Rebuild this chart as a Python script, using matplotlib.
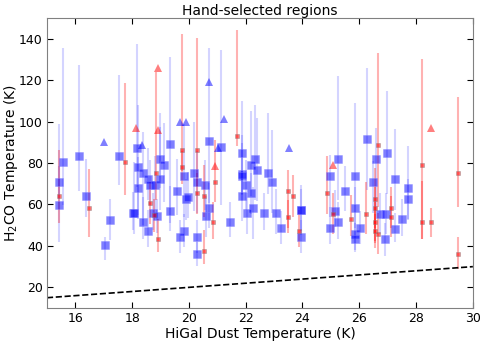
import numpy as np
import matplotlib
matplotlib.use("Agg")
import matplotlib.pyplot as plt

# blue squares: dust T, H2CO T, lower err, upper err
blue_x = [15.42, 15.42, 15.56, 16.12, 16.37, 17.23, 17.06, 17.55, 18.02,
          18.16, 18.20, 18.39, 18.56, 18.22, 18.08, 18.39, 18.56, 18.62, 18.79,
          18.97, 19.13, 18.99, 18.75, 18.88, 19.32, 19.32, 19.58, 19.82, 19.89,
          19.97, 20.17, 20.30, 20.71, 20.57, 20.60, 20.71, 19.82, 19.70, 20.30, 20.30,
          21.13, 21.87, 22.32, 22.19, 22.41, 21.87, 21.87, 22.02, 21.87, 22.19,
          22.26, 22.06, 21.46, 22.80, 22.91, 22.66, 23.08, 23.23, 23.93, 23.95, 23.95,
          25.25, 24.96, 25.51, 25.84, 25.84, 25.13, 25.25, 24.96, 25.84, 25.84,
          26.02, 26.28, 26.59, 26.96, 26.50, 26.73, 26.93, 26.92,
          27.27, 27.70, 27.70, 27.51, 27.25]
blue_y = [70.7, 59.8, 80.5, 83.4, 64.0, 52.7, 40.3, 83.4, 55.8,
          87.4, 78.0, 75.0, 72.3, 68.1, 55.7, 51.4, 47.3, 69.4, 69.4,
          82.0, 79.2, 72.3, 55.7, 54.4, 89.1, 57.0, 66.7, 73.8, 62.5,
          63.5, 75.0, 70.9, 90.5, 69.4, 54.3, 58.5, 47.3, 44.4, 44.4, 36.1,
          87.6, 84.9, 82.0, 79.2, 76.5, 74.6, 73.5, 69.4, 64.0, 65.4,
          58.5, 55.7, 51.4, 75.0, 70.9, 55.7, 55.7, 48.8, 57.3, 57.3, 44.4,
          82.0, 73.8, 66.7, 73.8, 58.5, 57.0, 51.4, 48.8, 45.9, 43.2,
          48.8, 91.8, 82.0, 84.9, 70.9, 55.6, 55.6, 43.2,
          72.3, 68.1, 62.5, 52.8, 48.0]
blue_lo = [8, 18, 21, 17, 10, 10, 7, 14, 8,
           19, 23, 25, 10, 15, 10, 8, 8, 10, 12,
           14, 18, 15, 8, 8, 38, 10, 12, 20, 10,
           10, 18, 15, 30, 12, 10, 10, 8, 8, 8, 6,
           28, 20, 20, 15, 15, 10, 12, 12, 12, 10,
           15, 10, 7, 10, 15, 8, 10, 8, 12, 10, 8,
           20, 20, 10, 20, 10, 8, 8, 8, 8, 6,
           8, 25, 25, 20, 15, 10, 10, 8,
           15, 15, 10, 8, 6]
blue_hi = [8, 39, 55, 44, 18, 10, 4, 39, 10,
           50, 30, 20, 15, 15, 25, 12, 10, 12, 14,
           22, 20, 25, 10, 8, 42, 12, 15, 25, 10,
           12, 25, 15, 45, 12, 10, 12, 8, 8, 8, 6,
           47, 25, 26, 26, 25, 15, 20, 12, 12, 10,
           10, 10, 10, 29, 25, 10, 12, 8, 12, 10, 8,
           40, 10, 12, 35, 10, 10, 10, 10, 8, 8,
           8, 34, 15, 30, 10, 10, 10, 8,
           24, 20, 10, 10, 8]

# red points
red_x = [15.42, 16.49, 17.74, 18.85, 18.64, 18.78, 18.92, 19.76, 19.76, 20.29,
         20.29, 20.53, 20.93, 20.85, 20.53, 21.68, 23.48, 23.65, 23.48, 23.86,
         24.86, 25.06, 25.70, 26.22, 26.66, 26.56, 26.56, 26.54, 26.54, 26.66,
         27.10, 27.10, 28.20, 28.20, 28.52, 29.47, 29.47]
red_y = [64.1, 58.3, 80.5, 75.0, 60.6, 54.8, 43.2, 86.2, 78.0, 86.2,
         65.4, 64.1, 71.0, 51.4, 37.5, 93.1, 66.7, 64.0, 54.1, 47.3,
         65.4, 55.6, 52.8, 55.6, 88.9, 62.5, 58.5, 51.4, 47.2, 45.9,
         58.5, 54.1, 79.1, 51.4, 51.4, 75.0, 36.1]
red_lo = [13, 14, 16, 13, 10, 8, 6, 10, 8, 18,
          10, 10, 10, 8, 6, 5, 18, 10, 8, 8,
          10, 10, 8, 10, 30, 20, 10, 10, 8, 10,
          10, 10, 36, 8, 7, 16, 7]
red_hi = [22, 19, 38, 49, 10, 8, 10, 56, 8, 54,
          10, 15, 20, 10, 10, 51, 10, 10, 8, 10,
          18, 10, 12, 15, 44, 15, 10, 10, 8, 10,
          10, 10, 51, 20, 7, 37, 8]

blue_tri_x = [17.00, 18.35, 19.69, 19.90, 20.70, 21.03, 21.23, 23.54]
blue_tri_y = [90.2, 88.6, 99.9, 99.9, 119.3, 87.1, 101.3, 87.4]
red_tri_x = [18.90, 18.12, 18.90, 20.93, 25.06, 28.52]
red_tri_y = [126.0, 97.1, 95.7, 78.7, 79.1, 97.1]

fig = plt.figure(figsize=(4.84, 3.45), dpi=100)
ax = fig.add_axes([0.097, 0.107, 0.88, 0.841])

ax.errorbar(blue_x, blue_y, yerr=[blue_lo, blue_hi], fmt='none',
            ecolor=(0, 0, 1, 0.17), elinewidth=1.5, capsize=0)
ax.errorbar(red_x, red_y, yerr=[red_lo, red_hi], fmt='none',
            ecolor=(1, 0, 0, 0.3), elinewidth=1.5, capsize=0)

ax.plot(blue_x, blue_y, 's', color='b', alpha=0.5, markersize=5.5,
        markeredgecolor=(0.5, 0.5, 1), markeredgewidth=0.5)
ax.plot(red_x, red_y, 's', color='r', alpha=0.55, markersize=3.2,
        markeredgecolor='gray', markeredgewidth=0.5)
ax.plot(blue_tri_x, blue_tri_y, '^', color='b', alpha=0.5, markersize=6,
        markeredgewidth=0)
ax.plot(red_tri_x, red_tri_y, '^', color='r', alpha=0.5, markersize=6,
        markeredgewidth=0)

# one-to-one line
line_x = np.array([15, 30])
ax.plot(line_x, line_x, 'k--', linewidth=1.2)

ax.set_xlim(15, 30)
ax.set_ylim(10, 150)
ax.set_xticks([16, 18, 20, 22, 24, 26, 28, 30])
ax.set_yticks([20, 40, 60, 80, 100, 120, 140])
ax.tick_params(labelsize=9, direction='in', length=4, top=True, right=True,
               pad=3)
for s in ax.spines.values():
    s.set_color('gray')
ax.set_xlabel("HiGal Dust Temperature (K)", fontsize=10, labelpad=1)
ax.set_ylabel("H$_2$CO Temperature (K)", fontsize=10)
ax.yaxis.set_label_coords(-0.064, 0.5)
ax.set_title("Hand-selected regions", fontsize=10, pad=2)

fig.savefig("out.png", dpi=100)
